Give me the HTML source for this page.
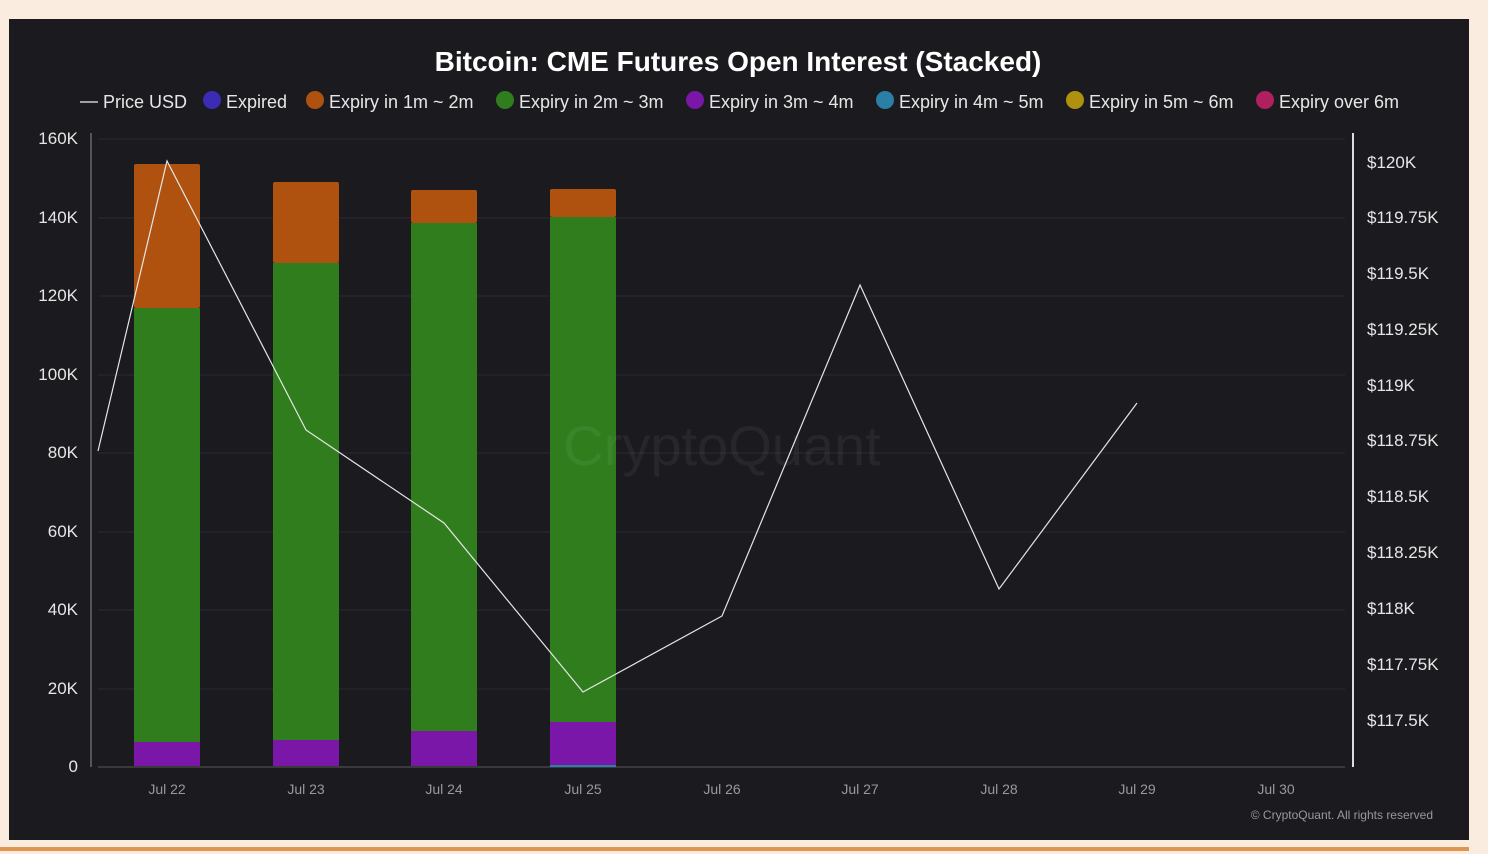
<!DOCTYPE html><html><head><style>body{margin:0;background:#fbece0;width:1488px;height:854px;overflow:hidden;font-family:"Liberation Sans",sans-serif}</style></head><body>
<svg width="1488" height="854" style="position:absolute;left:0;top:0">
<rect x="9" y="19" width="1460" height="821" fill="#1b1b1f"/>
<rect x="0" y="847" width="1469" height="4" fill="#e09550"/>
<text x="738" y="71" fill="#fff" font-size="28" font-weight="bold" text-anchor="middle">Bitcoin: CME Futures Open Interest (Stacked)</text>
<g font-size="18" fill="#e6e6e6">
<line x1="80" y1="102" x2="98" y2="102" stroke="#ccc" stroke-width="1.5"/><text x="103" y="108">Price USD</text>
<circle cx="212" cy="100" r="9" fill="#3b2bb5"/><text x="226" y="108">Expired</text>
<circle cx="315" cy="100" r="9" fill="#b0520f"/><text x="329" y="108">Expiry in 1m ~ 2m</text>
<circle cx="505" cy="100" r="9" fill="#2f7d1d"/><text x="519" y="108">Expiry in 2m ~ 3m</text>
<circle cx="695" cy="100" r="9" fill="#7a16a8"/><text x="709" y="108">Expiry in 3m ~ 4m</text>
<circle cx="885" cy="100" r="9" fill="#2a7fa6"/><text x="899" y="108">Expiry in 4m ~ 5m</text>
<circle cx="1075" cy="100" r="9" fill="#b0900f"/><text x="1089" y="108">Expiry in 5m ~ 6m</text>
<circle cx="1265" cy="100" r="9" fill="#b0205f"/><text x="1279" y="108">Expiry over 6m</text>
</g>
<g stroke="#2a2a30" stroke-width="1">
<line x1="98" y1="139" x2="1345" y2="139"/><line x1="98" y1="218" x2="1345" y2="218"/><line x1="98" y1="296" x2="1345" y2="296"/><line x1="98" y1="375" x2="1345" y2="375"/><line x1="98" y1="453" x2="1345" y2="453"/><line x1="98" y1="532" x2="1345" y2="532"/><line x1="98" y1="610" x2="1345" y2="610"/><line x1="98" y1="689" x2="1345" y2="689"/>
</g>
<line x1="91" y1="133" x2="91" y2="767" stroke="#555" stroke-width="2"/>
<line x1="1353" y1="133" x2="1353" y2="767" stroke="#ddd" stroke-width="2"/>
<line x1="98" y1="767" x2="1345" y2="767" stroke="#444" stroke-width="1.5"/>
<g font-size="17" fill="#e6e6e6" text-anchor="end">
<text x="78" y="144">160K</text><text x="78" y="223">140K</text><text x="78" y="301">120K</text><text x="78" y="380">100K</text><text x="78" y="458">80K</text><text x="78" y="537">60K</text><text x="78" y="615">40K</text><text x="78" y="694">20K</text><text x="78" y="772">0</text>
</g>
<g font-size="17" fill="#e6e6e6">
<text x="1367" y="168">$120K</text><text x="1367" y="223">$119.75K</text><text x="1367" y="279">$119.5K</text><text x="1367" y="335">$119.25K</text><text x="1367" y="391">$119K</text><text x="1367" y="446">$118.75K</text><text x="1367" y="502">$118.5K</text><text x="1367" y="558">$118.25K</text><text x="1367" y="614">$118K</text><text x="1367" y="670">$117.75K</text><text x="1367" y="726">$117.5K</text>
</g>
<g font-size="14" fill="#999" text-anchor="middle">
<text x="167" y="794">Jul 22</text><text x="306" y="794">Jul 23</text><text x="444" y="794">Jul 24</text><text x="583" y="794">Jul 25</text><text x="722" y="794">Jul 26</text><text x="860" y="794">Jul 27</text><text x="999" y="794">Jul 28</text><text x="1137" y="794">Jul 29</text><text x="1276" y="794">Jul 30</text>
</g>
<text x="1433" y="819" font-size="12" fill="#999" text-anchor="end">© CryptoQuant. All rights reserved</text>
<g>
<rect x="134" y="164" width="66" height="144" fill="#b0520f" rx="2"/><rect x="134" y="308" width="66" height="434" fill="#2f7d1d"/><rect x="134" y="742" width="66" height="24" fill="#7a16a8"/>
<rect x="273" y="182" width="66" height="81" fill="#b0520f" rx="2"/><rect x="273" y="263" width="66" height="477" fill="#2f7d1d"/><rect x="273" y="740" width="66" height="26" fill="#7a16a8"/>
<rect x="411" y="190" width="66" height="33" fill="#b0520f" rx="2"/><rect x="411" y="223" width="66" height="508" fill="#2f7d1d"/><rect x="411" y="731" width="66" height="35" fill="#7a16a8"/>
<rect x="550" y="189" width="66" height="28" fill="#b0520f" rx="2"/><rect x="550" y="217" width="66" height="505" fill="#2f7d1d"/><rect x="550" y="722" width="66" height="43" fill="#7a16a8"/><rect x="550" y="765" width="66" height="2" fill="#2a7fa6"/>
</g>
<text x="722" y="465" font-size="56" fill="#fff" opacity="0.05" text-anchor="middle">CryptoQuant</text>
<polyline points="98,451 167,161 306,430 444,523 583,692 722,616 860,285 999,589 1137,403" fill="none" stroke="#e6e6e6" stroke-width="1.2"/>
</svg></body></html>
